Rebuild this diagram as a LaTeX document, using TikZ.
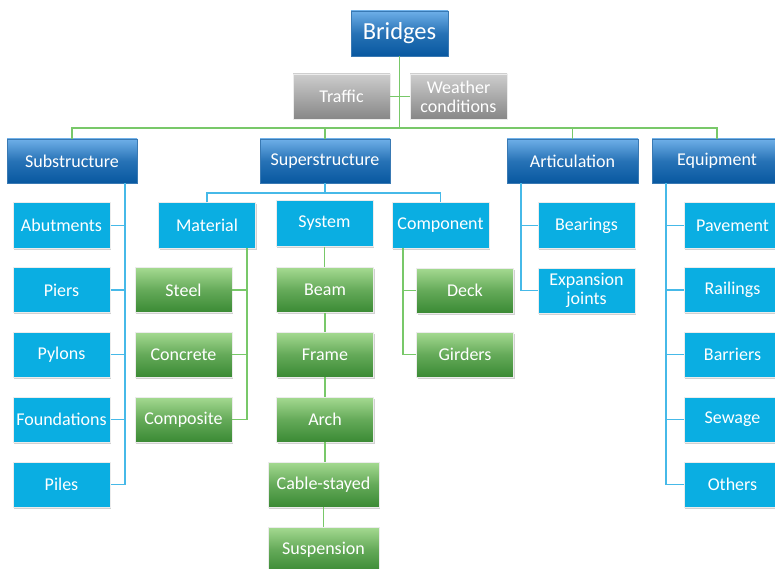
\documentclass[tikz,border=0pt]{standalone}
\usepackage{fontspec}
\setmainfont{Carlito}
\usetikzlibrary{shadows}
\definecolor{dbtop}{RGB}{110,175,232}
\definecolor{dbbot}{RGB}{8,88,160}
\definecolor{lblue}{RGB}{10,174,226}
\definecolor{gtop}{RGB}{165,218,145}
\definecolor{gbot}{RGB}{58,138,52}
\definecolor{greytop}{RGB}{205,205,205}
\definecolor{greybot}{RGB}{135,135,135}
\definecolor{gline}{RGB}{120,200,105}
\definecolor{bline}{RGB}{70,185,232}
\tikzset{
  basebox/.style={rectangle, inner sep=1pt, align=center, text=white,
    font=\fontsize{18}{19}\selectfont, minimum width=97pt, minimum height=45pt,
    drop shadow={shadow xshift=1pt, shadow yshift=-1.5pt, fill=black, opacity=0.18}},
  headbox/.style={basebox, minimum width=130pt, minimum height=44pt,
    top color=dbtop, bottom color=dbbot, middle color=dbbot!70!dbtop, draw=dbbot!80!white, line width=0.4pt},
  itembox/.style={basebox, fill=lblue, draw=white!85!gray, line width=1pt},
  leafbox/.style={basebox, top color=gtop, bottom color=gbot, middle color=gbot!60!gtop, draw=white!85!gray, line width=0.6pt},
  greybox/.style={basebox, top color=greytop, bottom color=greybot, draw=white!85!gray, line width=0.6pt},
  glink/.style={draw=gline, line width=1.6pt},
  blink/.style={draw=bline, line width=1.6pt}
}
\begin{document}
\begin{tikzpicture}[x=1pt,y=-1pt]
\useasboundingbox (0,0) rectangle (775,569);

% root and influences
\node[headbox, minimum width=97pt, minimum height=45pt, font=\fontsize{24.5}{25}\selectfont] (bridges) at (399.5,33.5) {Bridges};
\coordinate (hub) at (399.5,128);

% level 1
\node[headbox] (sub) at (72,161) {Substructure};
\node[headbox] (super) at (325,161) {Superstructure};
\node[headbox, minimum width=131pt] (artic) at (572.5,161) {Articulation};
\node[headbox] (equip) at (717,161) {Equipment};

% connectors of the top levels (drawn before the grey boxes)
\draw[glink] (bridges.south) -- (hub);
\draw[glink] (sub.north) -- (sub.north |- hub) -- (equip.north |- hub) -- (equip.north);
\draw[glink] (super.north) -- (super.north |- hub);
\draw[glink] (artic.north) -- (artic.north |- hub);

\node[greybox] (traffic) at (341.5,96.5) {Traffic};
\node[greybox] (weather) at (458.5,96.5) {Weather\\conditions};
\draw[glink] (traffic.east) -- (weather.west);

% substructure
\node[itembox] (abut) at (61.5,225.5) {Abutments};
\node[itembox] (piers) at (61.5,290) {Piers};
\node[itembox] (pylons) at (61.5,354.5) {Pylons};
\node[itembox] (found) at (61.5,419.5) {Foundations};
\node[itembox] (piles) at (61.5,484.5) {Piles};
\coordinate (subv) at (125,183);
\draw[blink] (subv) |- (piles.east);
\foreach \n in {abut,piers,pylons,found}
  \draw[blink] (\n.east) -- (\n.east -| subv);

% superstructure
\node[itembox] (material) at (207,225.5) {Material};
\node[itembox] (system) at (324.5,223.5) {System};
\node[itembox] (component) at (440.5,225.5) {Component};
\coordinate (superh) at (325,193);
\draw[blink] (super.south) -- (superh);
\draw[blink] (material.north) -- (material.north |- superh) -- (component.north |- superh) -- (component.north);

% materials
\node[leafbox] (steel) at (183.5,290) {Steel};
\node[leafbox] (concrete) at (183.5,354.5) {Concrete};
\node[leafbox] (composite) at (183.5,419.5) {Composite};
\coordinate (matv) at (247,248);
\draw[glink] (matv) |- (composite.east);
\foreach \n in {steel,concrete}
  \draw[glink] (\n.east) -- (\n.east -| matv);

% systems
\node[leafbox] (beam) at (325,290) {Beam};
\node[leafbox] (frame) at (325,354.5) {Frame};
\node[leafbox] (arch) at (325,419.5) {Arch};
\node[leafbox, minimum width=111pt] (cable) at (323.5,484.5) {Cable-stayed};
\node[leafbox, minimum width=111pt] (susp) at (323.5,549.5) {Suspension};
\draw[glink] (system.south) -- (system.south |- beam.north);
\draw[glink] (beam.south) -- (frame.north);
\draw[glink] (frame.south) -- (arch.north);
\draw[glink] (arch.south) -- (arch.south |- cable.north);
\draw[glink] (cable.south) -- (susp.north);

% components
\node[leafbox] (deck) at (465,290.5) {Deck};
\node[leafbox] (girders) at (465,354.5) {Girders};
\coordinate (compv) at (403,248);
\draw[glink] (compv) |- (girders.west);
\draw[glink] (deck.west) -- (deck.west -| compv);

% articulation
\node[itembox] (bearings) at (586.5,225.5) {Bearings};
\node[itembox] (expansion) at (586.5,290.5) {Expansion\\joints};
\coordinate (artv) at (521,183);
\draw[blink] (artv) |- (expansion.west);
\draw[blink] (bearings.west) -- (bearings.west -| artv);

% equipment
\node[itembox] (pavement) at (732.5,225.5) {Pavement};
\node[itembox] (railings) at (732.5,290) {Railings};
\node[itembox] (barriers) at (732.5,354.5) {Barriers};
\node[itembox] (sewage) at (732.5,419.5) {Sewage};
\node[itembox] (others) at (732.5,484.5) {Others};
\coordinate (eqv) at (666,183);
\draw[blink] (eqv) |- (others.west);
\foreach \n in {pavement,railings,barriers,sewage}
  \draw[blink] (\n.west) -- (\n.west -| eqv);
\end{tikzpicture}
\end{document}
